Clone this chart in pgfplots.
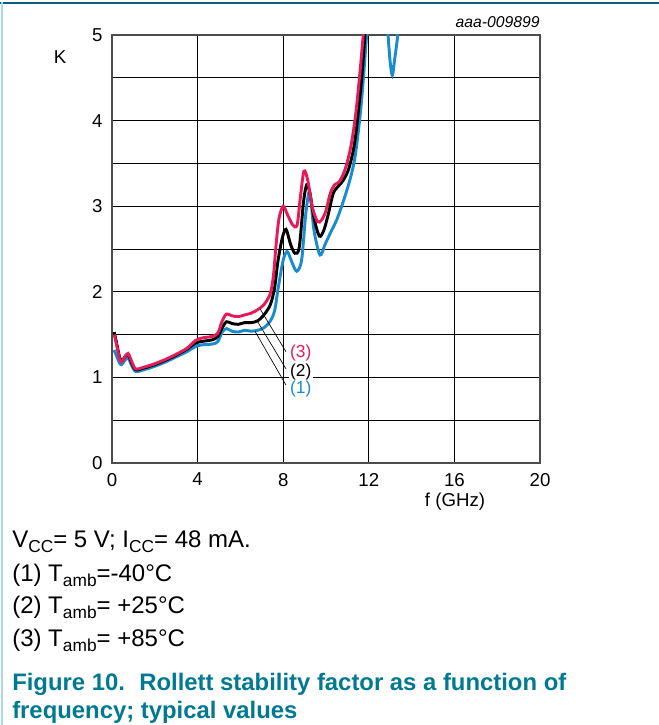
\documentclass[border=0pt]{standalone}
\usepackage{pgfplots}
\pgfplotsset{compat=1.18}
\usepackage{fontspec}
\setmainfont{Liberation Sans}

\definecolor{kred}{RGB}{230,28,90}
\definecolor{kblue}{RGB}{25,140,205}
\definecolor{capteal}{RGB}{0,121,145}
\definecolor{topline}{RGB}{10,95,125}
\definecolor{leftline}{RGB}{170,218,228}

\newcommand{\sub}[1]{\raisebox{-0.32ex}{\fontsize{13}{13}\selectfont #1}}

\begin{document}
\begin{tikzpicture}
% page frame: 659 x 725 px at 0.75pt per px
\useasboundingbox (0,0) rectangle (494.25pt,543.75pt);
\draw[topline, line width=1.6pt] (0,541.5pt) -- (494.25pt,541.5pt);
\draw[leftline, line width=2pt] (1.5pt,0) -- (1.5pt,542pt);

\begin{axis}[
    at={(84pt,196.5pt)}, anchor=south west,
    scale only axis, width=321pt, height=321pt,
    xmin=0, xmax=20, ymin=0, ymax=5,
    xtick={0,4,...,20}, ytick={0,1,...,5},
    minor y tick num=1,
    grid=both,
    grid style={black, line width=0.6pt},
    minor grid style={black, line width=0.6pt},
    major tick length=0pt, minor tick length=0pt,
    axis line style={gray!60!black, line width=1pt},
    tick label style={font=\fontsize{14}{14}\selectfont},
    /pgf/number format/assume math mode=true,
    yticklabel style={xshift=-3.5pt},
    xticklabel style={yshift=-4pt},
    clip=true,
]
% (1) -40 C
\addplot[kblue, line width=2.2pt, smooth, tension=0.5] coordinates {
 (0.1,1.32)(0.2,1.26)(0.35,1.17)(0.45,1.15)(0.6,1.2)(0.75,1.23)(0.9,1.15)(1.1,1.07)
 (1.5,1.09)(2.0,1.13)(2.5,1.18)(3.0,1.24)(3.5,1.3)(3.9,1.36)(4.2,1.38)(4.7,1.39)
 (4.95,1.42)(5.15,1.53)(5.35,1.57)(5.6,1.54)(5.9,1.53)(6.2,1.55)(6.5,1.54)(6.8,1.55)
 (7.1,1.58)(7.4,1.66)(7.6,1.78)(7.77,2.05)(8.0,2.37)(8.19,2.47)(8.4,2.35)(8.63,2.24)
 (8.86,2.37)(9.05,2.9)(9.21,3.17)(9.3,3.05)(9.45,2.7)(9.72,2.43)(9.95,2.55)(10.19,2.68)
 (10.5,2.84)(10.8,3.05)(11.12,3.31)(11.36,3.58)(11.59,4.05)(11.74,4.47)(11.9,5.0)(12.0,5.3)
};
\addplot[kblue, line width=2.2pt, smooth, tension=0.5] coordinates {
 (12.8,5.4)(12.9,5.0)(13.0,4.68)(13.1,4.53)(13.2,4.7)(13.35,5.0)(13.45,5.4)
};
% (2) +25 C
\addplot[black, line width=2.2pt, smooth, tension=0.5] coordinates {
 (0.1,1.53)(0.2,1.42)(0.35,1.24)(0.45,1.19)(0.6,1.24)(0.75,1.27)(0.9,1.18)(1.1,1.09)
 (1.5,1.11)(2.0,1.15)(2.5,1.2)(3.0,1.26)(3.5,1.33)(3.9,1.4)(4.2,1.42)(4.7,1.44)
 (4.95,1.48)(5.15,1.58)(5.35,1.65)(5.6,1.63)(5.9,1.62)(6.2,1.64)(6.5,1.64)(6.8,1.66)
 (7.1,1.73)(7.4,1.85)(7.6,2.05)(7.75,2.35)(7.95,2.62)(8.13,2.73)(8.35,2.55)(8.55,2.45)
 (8.75,2.52)(8.95,3.05)(9.1,3.25)(9.25,3.15)(9.45,2.85)(9.69,2.65)(9.9,2.72)(10.1,2.9)
 (10.34,3.15)(10.6,3.24)(10.8,3.3)(11.04,3.42)(11.25,3.62)(11.4,3.85)(11.55,4.2)(11.67,4.5)
 (11.82,5.0)(11.9,5.3)
};
% (3) +85 C
\addplot[kred, line width=2.2pt, smooth, tension=0.5] coordinates {
 (0.1,1.50)(0.2,1.40)(0.35,1.22)(0.45,1.18)(0.6,1.24)(0.75,1.28)(0.9,1.2)(1.1,1.1)
 (1.5,1.12)(2.0,1.16)(2.5,1.21)(3.0,1.27)(3.5,1.34)(3.9,1.43)(4.2,1.46)(4.7,1.48)
 (4.95,1.52)(5.15,1.66)(5.35,1.74)(5.6,1.72)(5.9,1.71)(6.2,1.73)(6.5,1.75)(6.8,1.79)
 (7.1,1.85)(7.4,1.98)(7.55,2.2)(7.65,2.5)(7.8,2.85)(8.0,3.0)(8.2,2.9)(8.45,2.78)
 (8.65,2.78)(8.8,3.1)(8.97,3.41)(9.15,3.3)(9.35,3.0)(9.6,2.82)(9.8,2.84)(10.0,2.95)
 (10.2,3.15)(10.4,3.25)(10.6,3.28)(10.8,3.37)(11.0,3.52)(11.2,3.75)(11.4,4.1)(11.6,4.6)
 (11.74,5.0)(11.85,5.3)
};
% leader lines and curve labels
\draw[black, line width=0.5pt] (axis cs:6.92,1.80) -- (axis cs:8.13,1.30);
\draw[black, line width=0.5pt] (axis cs:6.76,1.67) -- (axis cs:8.13,1.10);
\draw[black, line width=0.5pt] (axis cs:6.68,1.54) -- (axis cs:8.13,0.91);
\node[anchor=west, fill=white, inner sep=1pt, text=kred, font=\fontsize{13}{13}\selectfont] at (axis cs:8.25,1.285) {(3)};
\node[anchor=west, fill=white, inner sep=1pt, text=black, font=\fontsize{13}{13}\selectfont] at (axis cs:8.25,1.063) {(2)};
\node[anchor=west, fill=white, inner sep=1pt, text=kblue, font=\fontsize{13}{13}\selectfont] at (axis cs:8.25,0.864) {(1)};
\end{axis}

% axis titles and figure id
\node[font=\fontsize{14}{14}\selectfont] at (45pt,501pt) {K};
\node[font=\fontsize{14}{14}\selectfont] at (341.25pt,167.5pt) {f (GHz)};
\node[anchor=east, inner sep=0pt, font=\fontsize{11.8}{11.8}\selectfont\itshape] at (405pt,527.25pt) {aaa-009899};

% conditions
\begin{scope}[every node/.style={anchor=base west, inner sep=0pt, font=\fontsize{18}{18}\selectfont}]
\node at (9pt,132.75pt) {V\sub{CC}= 5 V; I\sub{CC}= 48 mA.};
\node at (9pt,107.25pt) {(1) T\sub{amb}=-40°C};
\node at (9pt,83.25pt) {(2) T\sub{amb}= +25°C};
\node at (9pt,58.5pt) {(3) T\sub{amb}= +85°C};
\end{scope}
% caption
\begin{scope}[every node/.style={anchor=base west, inner sep=0pt, text=capteal, font=\fontsize{17.9}{17.9}\selectfont\bfseries}]
\node at (9pt,26.25pt) {Figure 10.\hspace{0.6em}Rollett stability factor as a function of};
\node at (9pt,5.25pt) {frequency; typical values};
\end{scope}
\end{tikzpicture}
\end{document}
